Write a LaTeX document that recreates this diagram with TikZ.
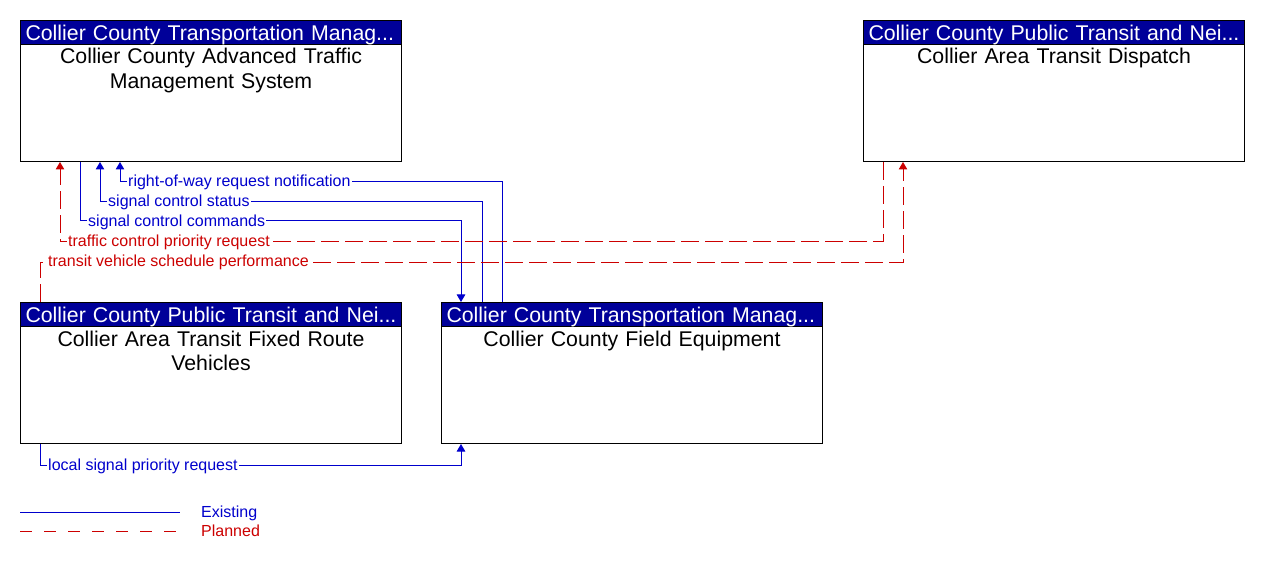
\documentclass[tikz,border=0pt]{standalone}
\usepackage{fontspec}
\setmainfont{Liberation Sans}
\usetikzlibrary{arrows.meta,calc}
\definecolor{hdrblue}{RGB}{0,0,153}
\definecolor{exblue}{RGB}{0,0,204}
\definecolor{plred}{RGB}{204,0,0}
\begin{document}
\begin{tikzpicture}[x=1pt,y=-1pt,
  box/.style={draw=black, line width=1pt, fill=white, minimum width=381pt, minimum height=141pt, anchor=north west, inner sep=0pt},
  hdr/.style={draw=black, line width=1pt, fill=hdrblue, text=white, anchor=north west, inner xsep=5pt, inner ysep=0pt, text width=371pt, align=left, minimum height=24pt, text height=18pt, text depth=2pt, font=\fontsize{21.3}{24}\selectfont},
  body/.style={anchor=base, text width=370pt, align=center, inner sep=0pt, font=\fontsize{21.3}{24.5}\selectfont},
  exist/.style={draw=exblue, line width=1pt},
  plan/.style={draw=plred, line width=1pt, dash pattern=on 18pt off 6pt},
  legplan/.style={draw=plred, line width=1pt, dash pattern=on 12pt off 12pt},
  tip/.style={-{Triangle[length=7.5pt,width=8.5pt]}},
  lbl/.style={anchor=west, fill=white, inner xsep=1pt, inner ysep=0pt, text height=12pt, text depth=2pt, font=\fontsize{16}{18}\selectfont},
  exlbl/.style={lbl, text=exblue},
  pllbl/.style={lbl, text=plred},
  legtxt/.style={anchor=west, inner sep=0pt, text height=12pt, text depth=3.5pt, font=\fontsize{16}{18}\selectfont}
]
\useasboundingbox (0,0) rectangle (1261,561);

% boxes
\node[box] (atms) at (20,20) {};
\node[hdr] (atmsh) at (20,20) {Collier County Transportation Manag...};
\node[body] (atmsb) at ($(atms.north)+(0,44)$) {Collier County Advanced Traffic\\Management System};

\node[box] (disp) at (863,20) {};
\node[hdr] (disph) at (863,20) {Collier County Public Transit and Nei...};
\node[body] (dispb) at ($(disp.north)+(0,44)$) {Collier Area Transit Dispatch};

\node[box] (frv) at (20,302) {};
\node[hdr] (frvh) at (20,302) {Collier County Public Transit and Nei...};
\node[body] (frvb) at ($(frv.north)+(0,44)$) {Collier Area Transit Fixed Route\\Vehicles};

\node[box] (fe) at (441,302) {};
\node[hdr] (feh) at (441,302) {Collier County Transportation Manag...};
\node[body] (feb) at ($(fe.north)+(0,44)$) {Collier County Field Equipment};

% right-of-way request notification
\draw[exist,tip] ([xshift=61pt]fe.north west) |- ([xshift=100pt,yshift=-20pt]atms.south west) -- ([xshift=100pt]atms.south west);
\node[exlbl] (l1) at ([xshift=107pt,yshift=-20pt]atms.south west) {right-of-way request notification};

% signal control status
\draw[exist,tip] ([xshift=41pt]fe.north west) |- ([xshift=80pt,yshift=-40pt]atms.south west) -- ([xshift=80pt]atms.south west);
\node[exlbl] (l2) at ([xshift=87pt,yshift=-40pt]atms.south west) {signal control status};

% signal control commands
\draw[exist,tip] ([xshift=60pt]atms.south west) |- ([xshift=20pt,yshift=81pt]fe.north west) -- ([xshift=20pt]fe.north west);
\node[exlbl] (l3) at ([xshift=67pt,yshift=-60pt]atms.south west) {signal control commands};

% traffic control priority request
\draw[plan,tip] ([xshift=20pt]disp.south west) |- ([xshift=40pt,yshift=-80pt]atms.south west) -- ([xshift=40pt]atms.south west);
\node[pllbl] (l4) at ([xshift=47pt,yshift=-80pt]atms.south west) {traffic control priority request};

% transit vehicle schedule performance
\draw[plan,tip] ([xshift=20pt]frv.north west) |- ([xshift=40pt,yshift=-101pt]disp.south west) -- ([xshift=40pt]disp.south west);
\node[pllbl] (l5) at ([xshift=27pt,yshift=40pt]frv.north west) {transit vehicle schedule performance};

% local signal priority request
\draw[exist,tip] ([xshift=20pt]frv.south west) |- ([xshift=20pt,yshift=-21pt]fe.south west) -- ([xshift=20pt]fe.south west);
\node[exlbl] (l6) at ([xshift=27pt,yshift=-21pt]frv.south west) {local signal priority request};

% legend
\coordinate (e1) at (20,512);
\coordinate (e2) at (180,512);
\coordinate (p1) at (20,531);
\coordinate (p2) at (180,531);
\draw[exist] (e1) -- (e2);
\draw[legplan] (p1) -- (p2);
\node[legtxt, text=exblue] (lex) at (201,513.5) {Existing};
\node[legtxt, text=plred] (lpl) at (201,532.5) {Planned};
\end{tikzpicture}
\end{document}
